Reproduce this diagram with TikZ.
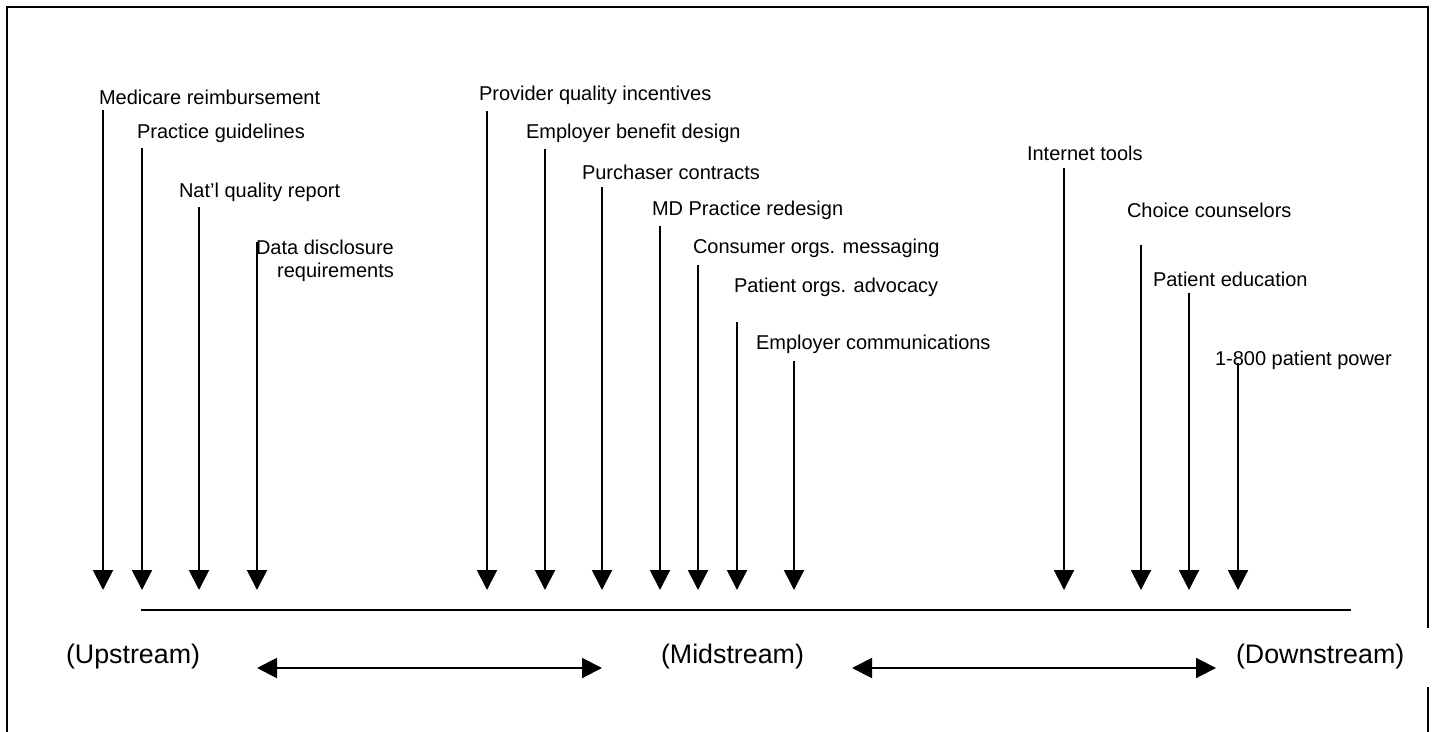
\documentclass[tikz,border=0pt]{standalone}
\usepackage{fontspec}
\setmainfont{Liberation Sans}
\usetikzlibrary{arrows.meta}

\begin{document}
\begin{tikzpicture}[-,>={Triangle[length=10pt,width=10pt]},x=0.5pt,y=-0.5pt,line width=1pt,
    item node/.style={anchor=west,inner sep=0pt,font=\fontsize{10}{11.5}\selectfont},
    stream node/.style={anchor=west,inner sep=0pt,font=\fontsize{13.4}{15}\selectfont}]

            \useasboundingbox (0,0) rectangle (1433,732);

            % frame
            \draw (7,732) -- (7,7) -- (1428,7) -- (1428,628);
            \draw (1428,687) -- (1428,732);

            % upstream
            \node[item node] (1) at (98,97) {Medicare reimbursement};
            \node[item node] (2) at (136,133) {Practice guidelines};
            \node[item node] (3) at (178,192) {Nat’l quality report};
            \node[item node,align=right] (4) at (255,261) {Data disclosure\\requirements};

            % midstream
            \node[item node] (5) at (478,95) {Provider quality incentives};
            \node[item node] (6) at (525,133) {Employer benefit design};
            \node[item node] (7) at (581,172) {Purchaser contracts};
            \node[item node] (8) at (651,210) {MD Practice redesign};
            \node[item node] (9) at (692,248) {Consumer orgs. messaging};
            \node[item node] (10) at (733,287) {Patient orgs. advocacy};
            \node[item node] (11) at (755,344) {Employer communications};

            % downstream
            \node[item node] (12) at (1026,153) {Internet tools};
            \node[item node] (13) at (1126,210) {Choice counselors};
            \node[item node] (14) at (1152,279) {Patient education};
            \node[item node] (15) at (1214,360) {1-800 patient power};

            \coordinate (1t) at (103,110);  \coordinate (1b) at (103,590);
            \coordinate (2t) at (142,148);  \coordinate (2b) at (142,590);
            \coordinate (3t) at (199,207);  \coordinate (3b) at (199,590);
            \coordinate (4t) at (257,242);  \coordinate (4b) at (257,590);
            \coordinate (5t) at (487,111);  \coordinate (5b) at (487,590);
            \coordinate (6t) at (545,149);  \coordinate (6b) at (545,590);
            \coordinate (7t) at (602,187);  \coordinate (7b) at (602,590);
            \coordinate (8t) at (660,226);  \coordinate (8b) at (660,590);
            \coordinate (9t) at (698,265);  \coordinate (9b) at (698,590);
            \coordinate (10t) at (737,322); \coordinate (10b) at (737,590);
            \coordinate (11t) at (794,361); \coordinate (11b) at (794,590);
            \coordinate (12t) at (1064,168); \coordinate (12b) at (1064,590);
            \coordinate (13t) at (1141,245); \coordinate (13b) at (1141,590);
            \coordinate (14t) at (1189,293); \coordinate (14b) at (1189,590);
            \coordinate (15t) at (1238,363); \coordinate (15b) at (1238,590);

            \path[->]
                (1t) edge (1b)
                (2t) edge (2b)
                (3t) edge (3b)
                (4t) edge (4b)

                (5t) edge (5b)
                (6t) edge (6b)
                (7t) edge (7b)
                (8t) edge (8b)
                (9t) edge (9b)
                (10t) edge (10b)
                (11t) edge (11b)

                (12t) edge (12b)
                (13t) edge (13b)
                (14t) edge (14b)
                (15t) edge (15b)
            ;

            % axis
            \coordinate (a1) at (141,610);
            \coordinate (a2) at (1351,610);
            \draw (a1) -- (a2);

            \node[stream node] (up) at (65,657) {(Upstream)};
            \node[stream node] (mid) at (660,657) {(Midstream)};
            \node[stream node] (down) at (1235,657) {(Downstream)};

            \coordinate (1c) at (257,668);  \coordinate (2c) at (602,668);
            \coordinate (3c) at (852,668);  \coordinate (4c) at (1216,668);
            \path[<->]
                (1c) edge (2c)
                (3c) edge (4c)
            ;
        \end{tikzpicture}
\end{document}
